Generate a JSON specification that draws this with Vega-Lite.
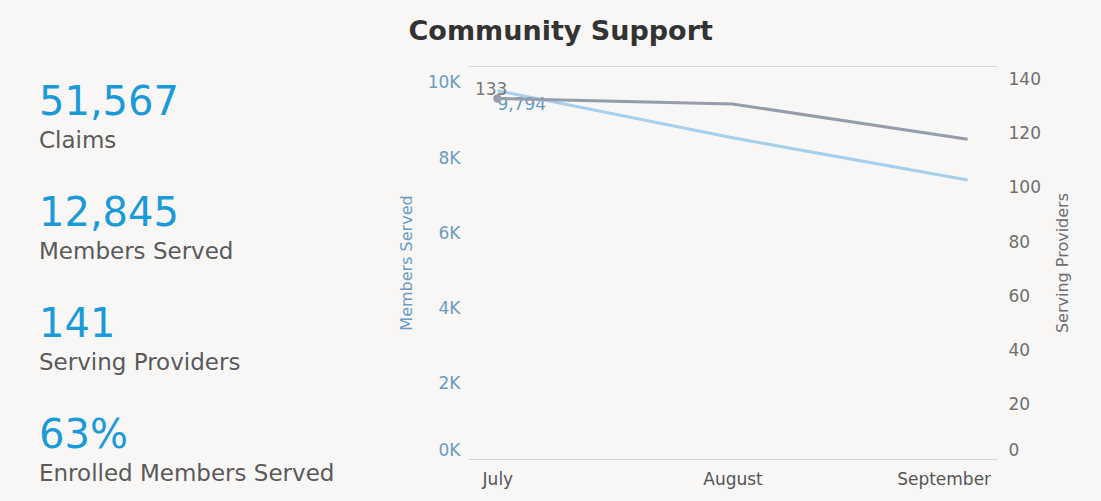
{
  "$schema": "https://vega.github.io/schema/vega-lite/v6.json",
  "background": "#f8f7f5",
  "padding": {"left": 39, "top": 18, "right": 40, "bottom": 14},
  "config": {"view": {"stroke": null}, "font": "DejaVu Sans"},
  "title": {"text": "Community Support", "fontSize": 27, "font": "DejaVu Sans", "fontWeight": "bold", "color": "#333333", "anchor": "middle", "offset": 20, "dx": 6},
  "bounds": "flush",
  "spacing": 109,
  "hconcat": [
    {
      "width": 320,
      "height": 393,
      "data": {"values": [
        {"metric": "Claims", "value": "51,567"},
        {"metric": "Members Served", "value": "12,845"},
        {"metric": "Serving Providers", "value": "141"},
        {"metric": "Enrolled Members Served", "value": "63%"}
      ]},
      "encoding": {
        "y": {"field": "metric", "type": "nominal", "sort": null, "scale": {"type": "point", "range": [56, 389], "padding": 0}, "axis": null},
        "x": {"datum": 0, "type": "quantitative", "scale": {"domain": [0, 1]}, "axis": null}
      },
      "layer": [
        {"mark": {"type": "text", "align": "left", "baseline": "middle", "dy": -19, "fontSize": 40, "color": "#1b9ad9"}, "encoding": {"text": {"field": "value"}}},
        {"mark": {"type": "text", "align": "left", "baseline": "middle", "dy": 19, "fontSize": 23, "color": "#5a5a5a"}, "encoding": {"text": {"field": "metric"}}}
      ]
    },
    {
      "width": 529,
      "height": 393,
      "data": {"values": [
        {"month": "July", "members": 9794, "providers": 133},
        {"month": "August", "members": 8540, "providers": 131},
        {"month": "September", "members": 7420, "providers": 118}
      ]},
      "layer": [
        {
          "encoding": {
            "x": {"field": "month", "type": "ordinal", "sort": null, "scale": {"type": "point", "padding": 0.125},
                  "axis": {"orient": "bottom", "title": null, "labelAngle": 0, "ticks": false, "domainColor": "#d4d4d4", "labelColor": "#555555", "labelFontSize": 17, "labelPadding": 12, "labelOffset": {"expr": "datum.label == 'September' ? -24 : 0"}}},
            "y": {"field": "members", "type": "quantitative", "scale": {"domain": [0, 10450], "nice": false},
                  "axis": {"orient": "left", "values": [0, 2000, 4000, 6000, 8000, 10000], "labelExpr": "datum.value/1000 + 'K'", "labelFlush": true, "grid": false, "domain": false, "ticks": false, "labelColor": "#6a9bc4", "labelFontSize": 17, "labelPadding": 8, "title": "Members Served", "titleColor": "#6a9bc4", "titleFontSize": 16, "titleFontWeight": "normal", "titlePadding": 13}}
          },
          "layer": [
            {"mark": {"type": "line", "color": "#a5cfec", "strokeWidth": 3}},
            {"transform": [{"filter": "datum.month == 'July'"}], "mark": {"type": "text", "align": "left", "baseline": "middle", "dx": 0, "dy": 14, "fontSize": 17, "color": "#6a9bc4"}, "encoding": {"text": {"field": "members", "type": "quantitative", "format": ","}}}
          ]
        },
        {
          "encoding": {
            "x": {"field": "month", "type": "ordinal", "sort": null, "scale": {"type": "point", "padding": 0.125},
                  "axis": {"orient": "top", "title": null, "labels": false, "ticks": false, "domainColor": "#d9d9d9"}},
            "y": {"field": "providers", "type": "quantitative", "scale": {"domain": [0, 145], "nice": false},
                  "axis": {"orient": "right", "values": [0, 20, 40, 60, 80, 100, 120, 140], "labelFlush": true, "grid": false, "domain": false, "ticks": false, "labelColor": "#6f6f6f", "labelFontSize": 17, "labelPadding": 11, "title": "Serving Providers", "titleAngle": 270, "titleColor": "#6f6f6f", "titleFontSize": 16, "titleFontWeight": "normal", "titlePadding": 30}}
          },
          "layer": [
            {"mark": {"type": "line", "color": "#959cab", "strokeWidth": 3}},
            {"transform": [{"filter": "datum.month == 'July'"}], "mark": {"type": "point", "filled": true, "size": 70, "color": "#959cab", "opacity": 1}},
            {"transform": [{"filter": "datum.month == 'July'"}], "mark": {"type": "text", "align": "right", "baseline": "middle", "dx": 10, "dy": -9, "fontSize": 17, "color": "#777777"}, "encoding": {"text": {"field": "providers", "type": "quantitative"}}}
          ]
        }
      ],
      "resolve": {"scale": {"y": "independent"}, "axis": {"y": "independent", "x": "independent"}}
    }
  ]
}
